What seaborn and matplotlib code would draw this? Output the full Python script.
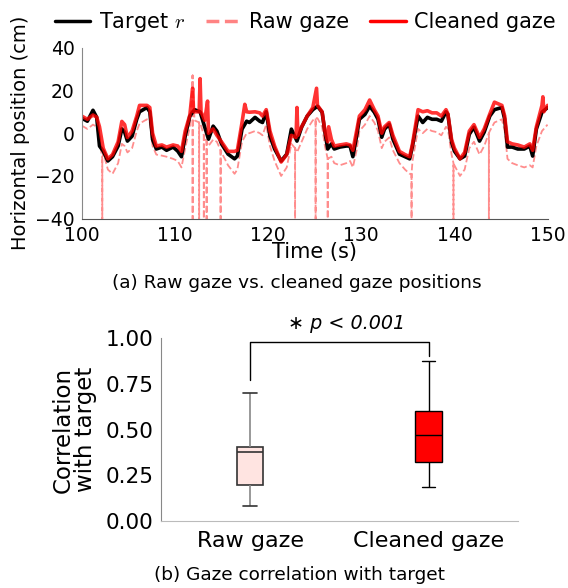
import numpy as np
import pandas as pd
import matplotlib
matplotlib.use("Agg")
import matplotlib.pyplot as plt
from matplotlib.lines import Line2D
import seaborn as sns

# ---------------- data: panel (a) ----------------
target_t = [100.0, 100.6, 101.2, 101.6, 101.9, 102.3, 102.8, 103.3, 103.9, 104.3,
            104.6, 104.9, 105.4, 105.9, 106.2, 107.0, 107.3, 107.6, 108.0, 108.6,
            109.1, 109.8, 110.3, 110.7, 111.1, 111.6, 112.1, 112.7, 113.2, 113.6,
            114.1, 114.5, 115.0, 115.7, 116.4, 116.7, 117.2, 117.7, 118.0, 118.6,
            119.1, 119.4, 119.8, 120.2, 120.7, 121.4, 122.0, 122.5, 123.1, 123.6,
            124.2, 124.8, 125.3, 125.8, 126.1, 126.4, 126.8, 127.1, 127.7, 128.4,
            128.8, 129.1, 129.5, 129.8, 130.4, 130.9, 131.4, 131.8, 132.2, 132.5,
            133.0, 133.4, 134.1, 134.7, 135.2, 135.5, 136.1, 136.6, 137.1, 137.6,
            138.1, 138.6, 139.1, 139.3, 139.7, 140.0, 140.6, 141.1, 141.6, 142.1,
            142.7, 143.2, 143.8, 144.3, 145.1, 145.4, 145.7, 146.2, 146.8, 147.5,
            148.1, 148.4, 148.8, 149.4, 150.0]
target_y = [7.0, 5.6, 10.7, 7.4, -6.0, -8.4, -13.0, -11.0, -6.0, 2.0,
            0.5, -3.7, -1.4, 6.5, 10.0, 12.0, 10.0, -3.0, -7.4, -6.5,
            -8.0, -6.5, -8.4, -11.0, -1.4, 8.0, 11.0, 10.0, 2.8, -2.8,
            3.3, 1.0, -5.0, -9.8, -12.0, -10.7, 1.9, 5.6, 5.0, 7.4,
            5.6, 5.0, 10.0, -1.4, -7.4, -13.0, -9.8, 1.9, -3.7, 2.8,
            8.0, 11.0, 12.6, 9.8, 0.5, -7.4, -5.0, -7.4, -6.5, -6.0,
            -6.0, -11.0, -1.4, 6.5, 8.8, 12.6, 9.8, 6.5, -1.9, 1.9,
            4.2, -2.8, -9.8, -11.0, -12.0, -6.0, 8.0, 5.0, 7.4, 6.5,
            6.5, 5.6, 10.0, 8.8, -4.2, -8.4, -12.0, -10.7, -0.5, 2.8,
            -3.7, 0.5, 8.0, 11.0, 12.0, 6.5, -6.5, -6.5, -7.4, -7.4,
            -6.0, -10.7, 1.9, 9.8, 12.0]

cleaned_t = [100.0, 100.6, 101.2, 101.6, 101.9, 102.3, 102.8, 103.3, 103.9, 104.3,
             104.6, 104.9, 105.4, 105.9, 106.2, 107.0, 107.3, 107.6, 108.0, 108.6,
             109.1, 109.8, 110.3, 110.7, 111.1, 111.6, 111.9, 112.0, 112.6, 112.7,
             112.8, 113.2, 113.5, 113.6, 114.1, 114.5, 115.0, 115.7, 116.4, 116.7,
             117.2, 117.5, 117.7, 118.0, 118.6, 119.1, 119.4, 119.8, 120.2, 120.7,
             121.4, 122.0, 122.5, 123.0, 123.1, 123.2, 123.6, 124.2, 124.8, 125.2,
             125.3, 125.8, 126.1, 126.4, 126.5, 126.8, 127.1, 127.7, 128.4, 128.8,
             129.1, 129.5, 129.8, 130.4, 130.9, 131.4, 131.8, 132.2, 132.5, 133.0,
             133.4, 134.1, 134.7, 135.2, 135.5, 136.1, 136.6, 137.1, 137.6, 138.1,
             138.6, 139.1, 139.3, 139.7, 140.0, 140.6, 141.1, 141.6, 142.1, 142.7,
             143.2, 143.8, 144.3, 145.1, 145.4, 145.7, 146.2, 146.8, 147.5, 148.1,
             148.4, 148.8, 149.4, 149.5, 149.6, 150.0]
cleaned_y = [8.0, 6.5, 8.5, 7.5, 3.0, -7.0, -12.0, -10.0, -4.0, 5.5,
             4.0, -2.0, 1.0, 8.0, 13.0, 13.0, 12.0, 0.0, -6.0, -5.5,
             -6.5, -5.5, -6.0, -8.5, 1.0, 8.5, 21.0, 10.0, 10.0, 25.5,
             10.0, 6.0, 15.0, 0.0, 2.0, -1.0, -4.0, -8.5, -8.5, -8.0,
             5.0, 13.5, 10.0, 9.8, 10.0, 9.5, 8.0, 11.0, 1.0, -6.0,
             -13.5, -10.0, -1.0, -2.0, 12.0, -1.0, 3.0, 8.0, 12.0, 21.0,
             13.0, 10.0, 1.0, -4.0, 3.0, -3.0, -6.0, -5.5, -5.0, -5.5,
             -8.0, 1.0, 8.0, 11.0, 15.5, 11.0, 8.0, 0.0, 3.0, 5.0,
             -1.0, -8.5, -10.0, -11.0, -5.0, 11.0, 10.0, 10.5, 9.5, 9.5,
             8.0, 11.0, 9.0, -3.0, -7.0, -12.0, -9.0, 1.0, 4.0, -2.0,
             2.0, 9.0, 14.5, 13.0, 8.0, -4.0, -5.0, -5.5, -6.5, -5.0,
             -8.0, 3.0, 13.0, 17.0, 10.0, 13.0]

raw_t = target_t
raw_y = [3.5, 2.0, 4.0, 3.0, -3.0, -9.0, -17.0, -19.0, -14.0, -5.0,
         -6.0, -9.0, -7.0, 1.0, 4.5, 6.5, 5.0, -6.0, -10.0, -10.5,
         -11.0, -12.0, -13.0, -16.0, -7.0, 3.0, 6.0, 5.0, -2.0, -6.0,
         -3.0, -4.0, -9.0, -15.0, -19.0, -17.0, -4.0, 0.0, 0.0, 1.0,
         0.0, -1.0, 4.0, -6.0, -13.0, -20.0, -16.0, -5.0, -9.0, -4.0,
         2.0, 6.0, 7.0, 3.0, -6.0, -12.0, -11.0, -14.0, -15.0, -14.0,
         -13.0, -16.0, -8.0, 1.0, 4.0, 8.0, 5.0, 1.0, -7.0, -4.0,
         -2.0, -8.0, -14.0, -17.0, -19.0, -13.0, 2.0, 0.0, 2.0, 1.0,
         0.5, -1.0, 3.0, 2.0, -10.0, -15.0, -20.0, -17.0, -7.0, -4.0,
         -10.0, -6.0, 1.0, 5.0, 6.5, 1.0, -12.0, -14.0, -15.0, -16.0,
         -15.0, -16.0, -6.0, 1.0, 4.0]
# tracking-loss glitches of the raw gaze: time, value before the drop
raw_drop_t = [102.2, 111.9, 112.6, 113.1, 113.4, 114.9, 122.9, 125.1, 126.4, 135.4, 139.9, 143.7]
raw_drop_top = [-12.0, 27.0, 5.0, -1.0, -4.0, -8.0, -7.0, 7.0, -12.0, -19.0, -14.0, 0.0]
drop_floor = -40.0

# ---------------- data: panel (b) ----------------
groups = ["Raw gaze", "Cleaned gaze"]
# box-plot summary: [lower whisker, Q1, median, Q3, upper whisker]
raw_corr = [0.08, 0.195, 0.375, 0.405, 0.70]
cleaned_corr = [0.185, 0.325, 0.47, 0.60, 0.875]
p_text = "p < 0.001"

# ---------------- build tables ----------------
raw_pts_t = list(raw_t)
raw_pts_y = list(raw_y)
for t, top in zip(raw_drop_t, raw_drop_top):
    raw_pts_t += [t, t, t]
    raw_pts_y += [top, drop_floor, top]
raw_df = pd.DataFrame({"t": raw_pts_t, "y": raw_pts_y}).sort_values("t", kind="stable")
tgt_df = pd.DataFrame({"t": target_t, "y": target_y})
cln_df = pd.DataFrame({"t": cleaned_t, "y": cleaned_y})

box_df = pd.DataFrame({
    "group": [groups[0]] * len(raw_corr) + [groups[1]] * len(cleaned_corr),
    "corr": raw_corr + cleaned_corr,
})

# ---------------- figure ----------------
sns.set_style("white")
plt.rcParams["font.family"] = ["DejaVu Sans"]
plt.rcParams["mathtext.fontset"] = "cm"
for k in ["text.color", "axes.labelcolor", "xtick.labelcolor", "ytick.labelcolor"]:
    plt.rcParams[k] = "black"
fig = plt.figure(figsize=(5.68, 5.88), dpi=100)

ax1 = fig.add_axes([0.144, 0.628, 0.820, 0.291])
sns.lineplot(data=raw_df, x="t", y="y", ax=ax1, sort=False, estimator=None,
             color="#ff3030", alpha=0.55, lw=1.3, linestyle="--", legend=False)
sns.lineplot(data=tgt_df, x="t", y="y", ax=ax1, sort=False, estimator=None,
             color="black", lw=2.6, legend=False)
sns.lineplot(data=cln_df, x="t", y="y", ax=ax1, sort=False, estimator=None,
             color="#ff0000", alpha=0.8, lw=2.6, legend=False)
ax1.set_xlim(100, 150)
ax1.set_ylim(-40, 40)
ax1.set_xticks([100, 110, 120, 130, 140, 150])
ax1.set_yticks([-40, -20, 0, 20, 40])
ax1.set_xlabel("Time (s)", fontsize=15, labelpad=-2)
ax1.set_ylabel("Horizontal position (cm)", fontsize=14, labelpad=4)
ax1.tick_params(labelsize=13.5, length=3, color="#888888", pad=2)
for s in ["top", "right"]:
    ax1.spines[s].set_visible(False)
ax1.spines["left"].set_color("#888888")
ax1.spines["bottom"].set_color("#555555")
hh = [Line2D([], [], color="black", lw=2.5),
      Line2D([], [], color="#ff3030", alpha=0.6, lw=2.5, linestyle="--"),
      Line2D([], [], color="#ff0000", lw=2.5)]
ax1.legend(hh, ["Target $r$", "Raw gaze", "Cleaned gaze"], ncol=3, frameon=False,
           fontsize=15, loc="lower center", bbox_to_anchor=(0.48, 1.03),
           handlelength=1.7, handletextpad=0.4, columnspacing=1.0, borderaxespad=0)
fig.text(0.523, 0.518, "(a) Raw gaze vs. cleaned gaze positions", ha="center",
         va="center", fontsize=13.3)

ax2 = fig.add_axes([0.283, 0.114, 0.629, 0.311])
sns.boxplot(data=box_df[box_df.group == groups[0]], x="group", y="corr", order=groups,
            ax=ax2, width=0.15, color="#ffe4e1", linecolor="#333333", linewidth=1.2,
            whis=1.5, showfliers=False, saturation=1)
sns.boxplot(data=box_df[box_df.group == groups[1]], x="group", y="corr", order=groups,
            ax=ax2, width=0.15, color="#ff0000", linecolor="black", linewidth=1.0,
            whis=1.5, showfliers=False, saturation=1)
# raw-box whiskers in grey
for ln in ax2.lines:
    xd = np.asarray(ln.get_xdata(), dtype=float)
    yd = np.asarray(ln.get_ydata(), dtype=float)
    if len(xd) == 2 and np.allclose(xd, 0) and not np.isclose(yd[0], yd[1]):
        ln.set_color("#888888")
ax2.set_xlim(-0.5, 1.5)
ax2.set_ylim(0, 1.0)
ax2.set_yticks([0, 0.25, 0.5, 0.75, 1.0])
ax2.set_yticklabels(["0.00", "0.25", "0.50", "0.75", "1.00"])
ax2.set_xlabel("")
ax2.set_ylabel("Correlation\nwith target", fontsize=16.5, labelpad=6, linespacing=1.0)
ax2.tick_params(axis="y", labelsize=15.5, length=3, color="#888888", pad=2)
ax2.tick_params(axis="x", labelsize=16, length=3, color="#888888", pad=4)
for s in ["top", "right"]:
    ax2.spines[s].set_visible(False)
ax2.spines["left"].set_color("#888888")
ax2.spines["bottom"].set_color("#bbbbbb")
ax2.plot([0, 0, 1, 1], [0.77, 0.98, 0.98, 0.90], color="black", lw=1.0, clip_on=False)
ax2.text(0.54, 1.03, "∗ " + p_text, ha="center", va="bottom", fontsize=13.8,
         style="italic")
fig.text(0.528, 0.022, "(b) Gaze correlation with target", ha="center", va="center",
         fontsize=13.3)

fig.savefig("out.png", dpi=100)
